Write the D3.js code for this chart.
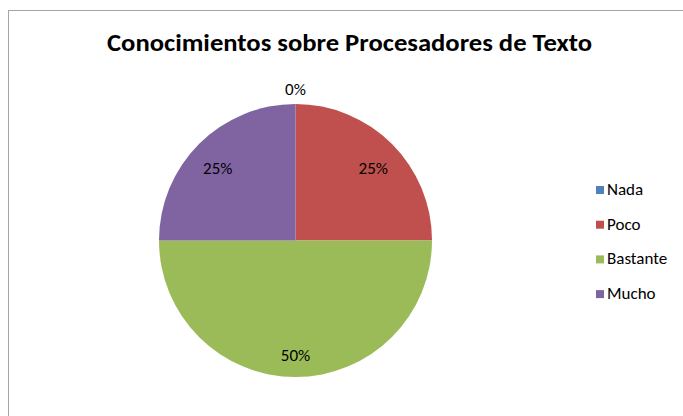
<!DOCTYPE html>
<html>
<head>
<meta charset="utf-8">
<script src="https://cdn.jsdelivr.net/npm/d3@7"></script>
<style>
  body { margin: 0; background: #fff; }
  svg { display: block; font-family: Carlito, Lato, "Open Sans", sans-serif; }
</style>
</head>
<body>
<svg width="683" height="416"></svg>
<script>
// data
const categories = ["Nada", "Poco", "Bastante", "Mucho"];
const values = [0, 1, 2, 1];
const colors = ["#4F81BD", "#C0504D", "#9BBB59", "#8064A2"];
const title = "Conocimientos sobre Procesadores de Texto";

const svg = d3.select("svg"),
    width = +svg.attr("width"),
    height = +svg.attr("height");

// chart area frame (runs off right/bottom edges)
svg.append("rect")
  .attr("x", 8.5).attr("y", 10.5)
  .attr("width", width + 20).attr("height", height + 20)
  .attr("fill", "#fff")
  .attr("stroke", "#A6A6A6")
  .attr("stroke-width", 1);

svg.append("text")
  .attr("x", 107).attr("y", 51)
  .attr("font-size", 24)
  .attr("font-weight", "bold")
  .attr("fill", "#000")
  .attr("textLength", 485)
  .attr("lengthAdjust", "spacingAndGlyphs")
  .text(title);

const cx = 295.5, cy = 240.5, r = 136.5;
const total = d3.sum(values);
const color = d3.scaleOrdinal().domain(categories).range(colors);

const pie = d3.pie().sort(null).value(d => d.value);
const arc = d3.arc().innerRadius(0).outerRadius(r);
const labelArc = d3.arc().innerRadius(110).outerRadius(110);

const data = categories.map((c, i) => ({ name: c, value: values[i] }));
const arcs = pie(data);

const g = svg.append("g").attr("transform", "translate(" + cx + "," + cy + ")");

g.selectAll("path")
  .data(arcs)
  .enter().append("path")
  .attr("d", arc)
  .attr("fill", d => color(d.data.name));

g.selectAll(".lbl")
  .data(arcs)
  .enter().append("text")
  .attr("class", "lbl")
  .attr("transform", d => {
    if (d.data.value === 0) {
      // zero slice label sits just outside the rim
      const a = d.startAngle;
      return "translate(" + ((r + 15) * Math.sin(a)) + "," + (-(r + 15) * Math.cos(a)) + ")";
    }
    const c = labelArc.centroid(d);
    return "translate(" + c[0] + "," + (c[1] + 5) + ")";
  })
  .attr("text-anchor", "middle")
  .attr("dy", "0.35em")
  .attr("font-size", 17)
  .attr("fill", "#000")
  .text(d => Math.round(d.data.value / total * 100) + "%");

// legend
const legend = svg.append("g").attr("transform", "translate(596,189)");
const item = legend.selectAll("g")
  .data(categories)
  .enter().append("g")
  .attr("transform", (d, i) => "translate(0," + (i * 34.7) + ")");

item.append("rect")
  .attr("x", 0).attr("y", -3)
  .attr("width", 8).attr("height", 8)
  .attr("fill", d => color(d));

item.append("text")
  .attr("x", 11).attr("dy", "0.35em")
  .attr("font-size", 17)
  .attr("fill", "#000")
  .text(d => d);
</script>
</body>
</html>
